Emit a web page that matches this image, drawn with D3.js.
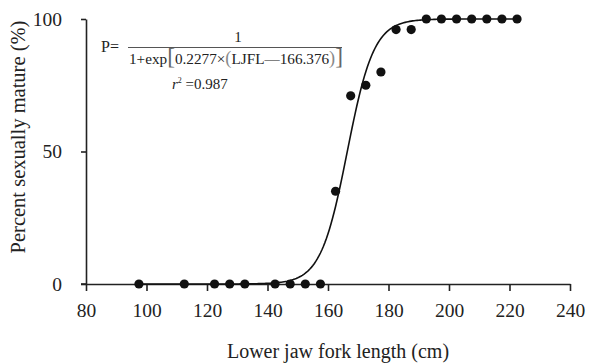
<!DOCTYPE html>
<html>
<head>
<meta charset="utf-8">
<script src="https://cdn.jsdelivr.net/npm/d3@7"></script>
<style>
  body { margin: 0; background: #fff; }
  svg text { font-family: "Liberation Serif", "Times New Roman", "DejaVu Serif", serif; fill: #222; }
</style>
</head>
<body>
<div id="chart"></div>
<script>
// Size of the picture and room for the axes
const width = 616;
const height = 364;
const margin = {top: 19, right: 46, bottom: 80, left: 86};

// Observed data: lower jaw fork length class (cm) and percent mature
const lengths = [97.5, 112.5, 122.5, 127.5, 132.5, 142.5, 147.5, 152.5, 157.5,
                 162.5, 167.5, 172.5, 177.5, 182.5, 187.5,
                 192.5, 197.5, 202.5, 207.5, 212.5, 217.5, 222.5];
const mature = [0, 0, 0, 0, 0, 0, 0, 0, 0,
                35, 71, 75, 80, 96, 96,
                100, 100, 100, 100, 100, 100, 100];

const xTicks = [80, 100, 120, 140, 160, 180, 200, 220, 240];
const yTicks = [0, 50, 100];

// Fitted logistic parameters, as printed on the chart
const slope = 0.2277;
const l50 = 166.376;

const serif = '"Liberation Serif", "Times New Roman", "DejaVu Serif", serif';

const svg = d3.select("#chart")
    .append("svg")
    .attr("width", width)
    .attr("height", height)
    .attr("font-family", serif);

const x = d3.scaleLinear()
    .domain([80, 240])
    .range([margin.left, width - margin.right]);

const y = d3.scaleLinear()
    .domain([0, 100])
    .range([height - margin.bottom, margin.top]);

// x axis
const xAxis = svg.append("g")
    .attr("transform", "translate(0," + y(0) + ")")
    .call(d3.axisBottom(x).tickValues(xTicks).tickSize(7).tickSizeOuter(0).tickPadding(12));

// y axis
const yAxis = svg.append("g")
    .attr("transform", "translate(" + x(80) + ",0)")
    .call(d3.axisLeft(y).tickValues(yTicks).tickSize(5).tickSizeOuter(0).tickPadding(19));

// extend the baseline a little to the left, like the original
svg.append("line")
    .attr("x1", x(80) - 5).attr("x2", x(80))
    .attr("y1", y(0)).attr("y2", y(0))
    .attr("stroke", "#222").attr("stroke-width", 1.6);

[xAxis, yAxis].forEach(function(g) {
    g.attr("font-family", serif).attr("font-size", 19.5);
    g.select(".domain").attr("stroke", "#222").attr("stroke-width", 1.6);
    g.selectAll(".tick line").attr("stroke", "#222").attr("stroke-width", 1.6);
    g.selectAll(".tick text").attr("fill", "#333");
});

// fitted curve
const curveX = d3.range(lengths[0], lengths[lengths.length - 1] + 0.01, 0.5);
const line = d3.line()
    .x(function(d) { return x(d); })
    .y(function(d) { return y(100 / (1 + Math.exp(-slope * (d - l50)))); });

svg.append("path")
    .datum(curveX)
    .attr("d", line)
    .attr("fill", "none")
    .attr("stroke", "#111")
    .attr("stroke-width", 1.6);

// observed points
svg.append("g")
    .selectAll("circle")
    .data(lengths)
    .join("circle")
    .attr("cx", function(d) { return x(d); })
    .attr("cy", function(d, i) { return y(mature[i]); })
    .attr("r", 4.6)
    .attr("fill", "#111");

// axis titles
svg.append("text")
    .attr("x", 338)
    .attr("y", 358)
    .attr("text-anchor", "middle")
    .attr("font-size", 20)
    .text("Lower jaw fork length (cm)");

svg.append("text")
    .attr("transform", "translate(25,137) rotate(-90)")
    .attr("text-anchor", "middle")
    .attr("font-size", 20.5)
    .text("Percent sexually mature (%)");

// equation
const eq = svg.append("g").attr("font-size", 15);

eq.append("text").attr("x", 101).attr("y", 52).attr("font-size", 16).text("P=");
eq.append("text").attr("x", 238).attr("y", 42).attr("text-anchor", "middle").text("1");
eq.append("line")
    .attr("x1", 128).attr("x2", 342)
    .attr("y1", 47.5).attr("y2", 47.5)
    .attr("stroke", "#555").attr("stroke-width", 1);

const den = eq.append("text").attr("x", 129).attr("y", 64)
    .attr("textLength", 214).attr("lengthAdjust", "spacingAndGlyphs");
den.append("tspan").text("1+exp");
den.append("tspan").attr("font-size", 23).attr("fill", "#666").text("[");
den.append("tspan").text("0.2277×");
den.append("tspan").attr("font-size", 18).attr("fill", "#888").text("(");
den.append("tspan").text("LJFL—166.376");
den.append("tspan").attr("font-size", 18).attr("fill", "#888").text(")");
den.append("tspan").attr("font-size", 23).attr("fill", "#666").text("]");

const r2 = eq.append("text").attr("x", 172).attr("y", 89);
r2.append("tspan").attr("font-style", "italic").text("r");
r2.append("tspan").attr("dy", -6).attr("font-size", 8).text("2");
r2.append("tspan").attr("dy", 6).text(" =0.987");
</script>
</body>
</html>
